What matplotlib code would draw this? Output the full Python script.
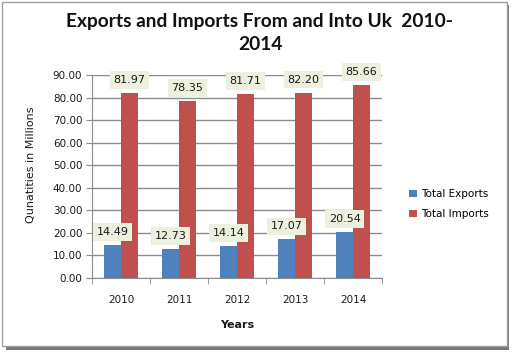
import matplotlib
matplotlib.use("Agg")
import matplotlib.pyplot as plt
from matplotlib.patches import Rectangle
import numpy as np

years = ["2010", "2011", "2012", "2013", "2014"]
exports = [14.49, 12.73, 14.14, 17.07, 20.54]
imports = [81.97, 78.35, 81.71, 82.20, 85.66]
yticks = [0, 10, 20, 30, 40, 50, 60, 70, 80, 90]

blue = "#4F81BD"
red = "#C0504D"
label_bg = "#EBF1DE"
grid_c = "#8C8C8C"

fig = plt.figure(figsize=(5.14, 3.54), dpi=100)
fig.patch.set_facecolor("white")

# outer border with shadow
fig.add_artist(Rectangle((6/514, 1 - 350/354), 503/514, 345/354, transform=fig.transFigure,
                         facecolor="#777777", edgecolor="none", zorder=-2))
fig.add_artist(Rectangle((2/514, 1 - 346/354), 505/514, 344/354, transform=fig.transFigure,
                         facecolor="white", edgecolor="#A0A0A0", linewidth=1.0, zorder=-1))

ax = fig.add_axes([92/514, 1 - 278/354, 290/514, 203/354])
ax.set_zorder(2)
ax.set_facecolor("none")

x = np.arange(len(years))
w = 0.29
ax.bar(x - w/2, exports, width=w, color=blue, label="Total Exports", zorder=3)
ax.bar(x + w/2, imports, width=w, color=red, label="Total Imports", zorder=3)

ax.set_xlim(-0.5, len(years) - 0.5)
ax.set_ylim(0, 90)
ax.set_yticks(yticks)
ax.set_yticklabels([f"{v:.2f}" for v in yticks])
ax.yaxis.grid(True, color=grid_c, linewidth=1.0, zorder=0)
ax.set_axisbelow(True)

ax.set_xticks(x)
ax.set_xticklabels(years)
ax.set_xticks(np.arange(-0.5, len(years)), minor=True)
ax.tick_params(axis="x", which="major", length=0, pad=12, labelsize=7.5, labelcolor="#1a1a1a")
ax.tick_params(axis="x", which="minor", length=4, color=grid_c, direction="out")
ax.tick_params(axis="y", length=4, color=grid_c, direction="out", labelsize=7.5, labelcolor="#1a1a1a", pad=3)

for s in ["top", "right"]:
    ax.spines[s].set_visible(False)
ax.spines["left"].set_color(grid_c)
ax.spines["bottom"].set_color(grid_c)

box = dict(boxstyle="square,pad=0.35", facecolor=label_bg, edgecolor="none")
for xi, v in zip(x, exports):
    ax.annotate(f"{v:.2f}", (xi - w/2, v), xytext=(0, 13), textcoords="offset pixels",
                ha="center", va="center", fontsize=8, color="#1a1a1a", bbox=box, zorder=5)
for xi, v in zip(x, imports):
    ax.annotate(f"{v:.2f}", (xi + w/2, v), xytext=(0, 13), textcoords="offset pixels",
                ha="center", va="center", fontsize=8, color="#1a1a1a", bbox=box, zorder=5,
                annotation_clip=False)

ax.set_xlabel("Years", fontsize=8, fontweight="bold", color="#1a1a1a", labelpad=11)
fig.text(31/514, 1 - 165/354, "Qunatities in Millions", rotation=90, ha="center", va="center",
         fontsize=8, color="#1a1a1a")

fig.text(260/514, 1 - 33/354, "Exports and Imports From and Into Uk  2010-\n2014",
         ha="center", va="center", fontsize=13.8, fontweight="bold", family="Lato",
         linespacing=1.4, color="#111111")

handles, labels = ax.get_legend_handles_labels()
fig.legend(handles, labels, loc="center left", bbox_to_anchor=(400/514, 1 - 204/354),
           frameon=False, fontsize=7.5, handlelength=0.7, handleheight=0.7,
           handletextpad=0.4, labelspacing=1.0)

fig.savefig("out.png", dpi=100)
